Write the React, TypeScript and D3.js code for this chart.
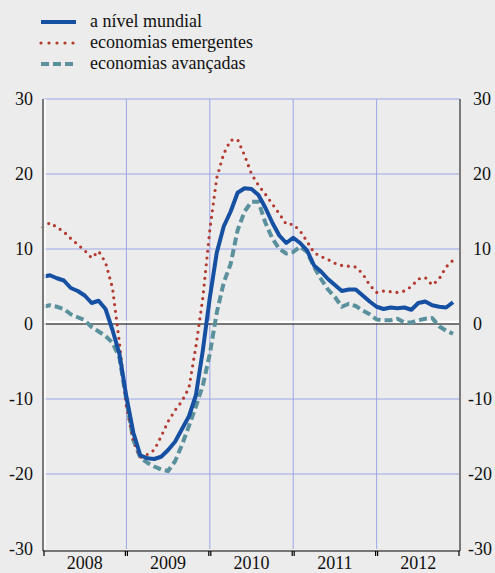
import React from 'react';
import * as d3 from 'd3';

// monthly, Jan 2008 - Dec 2012
const years = ['2008', '2009', '2010', '2011', '2012'];
const yTicks = [30, 20, 10, 0, -10, -20, -30];

const mundial = [
  6.3, 6.5, 6.1, 5.8, 4.8, 4.4, 3.8, 2.8, 3.1, 2.0, -0.8, -4.0,
  -9.7, -14.5, -17.5, -17.9, -18.0, -17.7, -16.8, -15.7, -14.0, -12.3, -9.5, -3.5,
  3.5, 9.5, 13.0, 15.0, 17.5, 18.1, 18.0, 17.2, 15.5, 13.5, 11.8, 10.8,
  11.5, 10.8, 9.8, 7.8, 7.0, 6.0, 5.2, 4.4, 4.6, 4.6, 3.8, 3.0,
  2.3, 2.0, 2.2, 2.1, 2.2, 1.9, 2.8, 3.0, 2.5, 2.3, 2.2, 2.9,
];

const emergentes = [
  12.9, 13.5, 12.9, 12.3, 11.4, 10.6, 9.8, 8.8, 9.7, 8.2, 4.8, -2.5,
  -11.0, -15.5, -17.8, -17.4, -16.8, -15.0, -13.0, -11.5, -10.3, -8.5, -3.0, 3.5,
  12.5, 19.5, 22.7, 24.5, 24.6, 22.5, 20.0, 18.5, 17.3, 16.0, 14.7, 13.3,
  13.3, 12.4, 11.0, 9.5, 9.0, 8.6, 8.1, 7.8, 7.7, 7.6, 6.7, 5.2,
  4.2, 4.4, 4.3, 4.2, 4.4, 5.0, 6.0, 6.2, 5.2, 6.0, 7.6, 8.5,
];

const avancadas = [
  2.3, 2.5, 2.3, 2.0, 1.3, 0.9, 0.5, -0.4, -1.0, -1.6, -2.5, -4.5,
  -10.2, -15.5, -17.8, -18.5, -19.0, -19.4, -19.6, -18.3, -16.1, -13.6, -11.0, -8.2,
  -4.0, 1.5, 5.5, 8.0, 12.5, 15.0, 16.3, 16.3, 13.5, 11.4, 10.0, 9.4,
  9.6, 10.3, 9.6, 7.6, 6.0, 4.6, 3.6, 2.3, 2.7, 2.4, 1.8, 1.3,
  0.6, 0.5, 0.5, 0.7, 0.2, 0.2, 0.5, 0.7, 0.8, -0.3, -0.9, -1.3,
];

const W = 495;
const H = 573;
const left = 43;
const right = 460;
const top = 99;
const bottom = 549;

const font = "'Liberation Serif', 'Times New Roman', Times, serif";
const gridColor = '#9ba6e6';
const blue = '#1650a2';
const red = '#b33a2f';
const teal = '#5b919c';

const series = [
  { name: 'a nível mundial', values: mundial, color: blue, width: 4, dash: undefined as string | undefined, legendDash: undefined as string | undefined, cap: 'butt' },
  { name: 'economias emergentes', values: emergentes, color: red, width: 3.2, dash: '0 6.8', legendDash: '0 8', cap: 'round' },
  { name: 'economias avançadas', values: avancadas, color: teal, width: 4, dash: '8 4', legendDash: '8 4', cap: 'butt' },
];

export default function App() {
  const x = d3.scaleLinear().domain([0, 60]).range([left, right]);
  const y = d3.scaleLinear().domain([-30, 30]).range([bottom, top]);

  const line = d3
    .line<number>()
    .x((_, i) => x(i))
    .y((d) => y(d));

  const drawOrder = [series[2], series[1], series[0]];
  const txt = { fontFamily: font };

  return (
    <svg
      width={W}
      height={H}
      style={{ position: 'absolute', left: 0, top: 0, background: '#ececec' }}
    >
      <rect x={0} y={0} width={W} height={H} fill="#ececec" />

      {/* legend */}
      {series.map((s, i) => {
        const ly = 22 + i * 21;
        return (
          <g key={s.name}>
            <line
              x1={41}
              x2={76}
              y1={ly}
              y2={ly}
              stroke={s.color}
              strokeWidth={s.width}
              strokeDasharray={s.legendDash}
              strokeLinecap={s.cap as any}
            />
            <text x={90} y={ly + 5} style={txt} fontSize={18} fill="#111">
              {s.name}
            </text>
          </g>
        );
      })}

      {/* grid */}
      {yTicks
        .filter((t) => t !== 0 && t !== -30)
        .map((t) => (
          <line key={t} x1={left} x2={right} y1={y(t)} y2={y(t)} stroke={gridColor} strokeWidth={1} />
        ))}
      {years.slice(1).map((_, i) => (
        <line
          key={i}
          x1={x((i + 1) * 12)}
          x2={x((i + 1) * 12)}
          y1={top}
          y2={bottom}
          stroke={gridColor}
          strokeWidth={1}
        />
      ))}

      {/* zero line */}
      <line x1={left} x2={right} y1={y(0) - 2} y2={y(0) - 2} stroke="#fff" strokeWidth={2.5} />
      <line x1={left} x2={right} y1={y(0)} y2={y(0)} stroke="#000" strokeWidth={1.2} />

      {/* series */}
      {drawOrder.map((s) => (
        <path
          key={s.name}
          d={line(s.values) || ''}
          fill="none"
          stroke={s.color}
          strokeWidth={s.width}
          strokeDasharray={s.dash}
          strokeLinecap={s.cap as any}
          strokeLinejoin="round"
        />
      ))}

      {/* side axes */}
      <line x1={left + 2} x2={left + 2} y1={top} y2={bottom} stroke="#fff" strokeWidth={1.5} />
      <line x1={left} x2={left} y1={top} y2={bottom + 2} stroke="#7a7a7a" strokeWidth={2} />
      <line x1={right} x2={right} y1={top} y2={bottom + 2} stroke="#7a7a7a" strokeWidth={2} />

      {/* bottom axis */}
      <line x1={left} x2={right} y1={551} y2={551} stroke="#000" strokeWidth={1.2} />
      {years.map((yr, i) => {
        const x0 = x(i * 12);
        const x1 = x((i + 1) * 12);
        return (
          <g key={yr}>
            <line x1={x0 + 1} x2={x0 + 1} y1={551} y2={556} stroke="#000" strokeWidth={1.2} />
            <line x1={x1 - 1} x2={x1 - 1} y1={551} y2={556} stroke="#000" strokeWidth={1.2} />
            <text
              x={(x0 + x1) / 2}
              y={569}
              textAnchor="middle"
              style={txt}
              fontSize={18}
              fill="#111"
            >
              {yr}
            </text>
          </g>
        );
      })}

      {/* tick labels */}
      {yTicks.map((t) => (
        <g key={t}>
          <text x={33} y={y(t) + 6} textAnchor="end" style={txt} fontSize={18} fill="#111">
            {t}
          </text>
          <text x={t < 0 ? 468 : 473} y={y(t) + 6} textAnchor="start" style={txt} fontSize={18} fill="#111">
            {t}
          </text>
        </g>
      ))}
    </svg>
  );
}
